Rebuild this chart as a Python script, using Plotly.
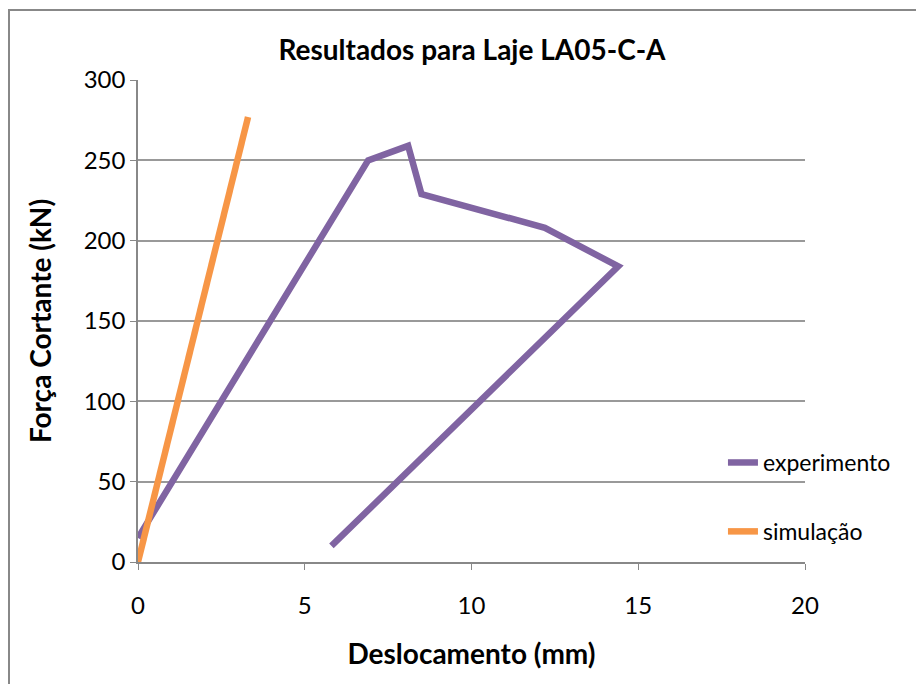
import plotly.graph_objects as go

# experimento
exp_x = [0.0, 6.9, 8.1, 8.5, 12.2, 14.4, 5.8]
exp_y = [15, 250, 259, 229, 208, 184, 10]

# simulação
sim_x = [0.0, 3.3]
sim_y = [0, 277]

FONT = "Lato"

fig = go.Figure()
fig.add_trace(go.Scatter(x=exp_x, y=exp_y, name="experimento", mode="lines",
                         line=dict(color="#8064A2", width=6.5), legendgroup="a"))
fig.add_trace(go.Scatter(x=sim_x, y=sim_y, name="simulação", mode="lines",
                         line=dict(color="#F79646", width=6.5), legendgroup="b"))

fig.update_layout(
    width=924, height=684,
    margin=dict(l=130, r=127, t=72, b=130),
    plot_bgcolor="white", paper_bgcolor="white",
    font=dict(family=FONT, color="black", size=24),
    title=dict(text="<b>Resultados para Laje LA05-C-A</b>", x=464 / 924, xanchor="center",
               y=1 - 42 / 684, yanchor="middle", font=dict(size=28)),
    legend=dict(x=0.877, y=0.251, xanchor="left", yanchor="top", tracegroupgap=36,
                bgcolor="rgba(0,0,0,0)", font=dict(size=23)),
    showlegend=True,
)
fig.update_xaxes(range=[0, 20], dtick=5, showgrid=False, zeroline=False,
                 showline=True, linecolor="#888", linewidth=1.5,
                 ticks="outside", ticklen=6, tickcolor="#888", ticklabelstandoff=15,
                 title=dict(text="<b>Deslocamento (mm)</b>", font=dict(size=28), standoff=27))
fig.update_yaxes(range=[0, 300], dtick=50, showgrid=True, gridcolor="#999", gridwidth=1.5,
                 zeroline=False, showline=True, linecolor="#888", linewidth=1.5,
                 ticks="outside", ticklen=6, tickcolor="#888",
                 title=dict(text="<b>Força Cortante (kN)</b>", font=dict(size=28), standoff=24))

# outer chart frame
fig.add_shape(type="rect", xref="paper", yref="paper",
              x0=(9 - 138) / 667, x1=1.3, y0=-0.4, y1=(562 - 10) / 482,
              line=dict(color="#888", width=2), fillcolor="rgba(0,0,0,0)", layer="below")

fig.write_html("out.html")
